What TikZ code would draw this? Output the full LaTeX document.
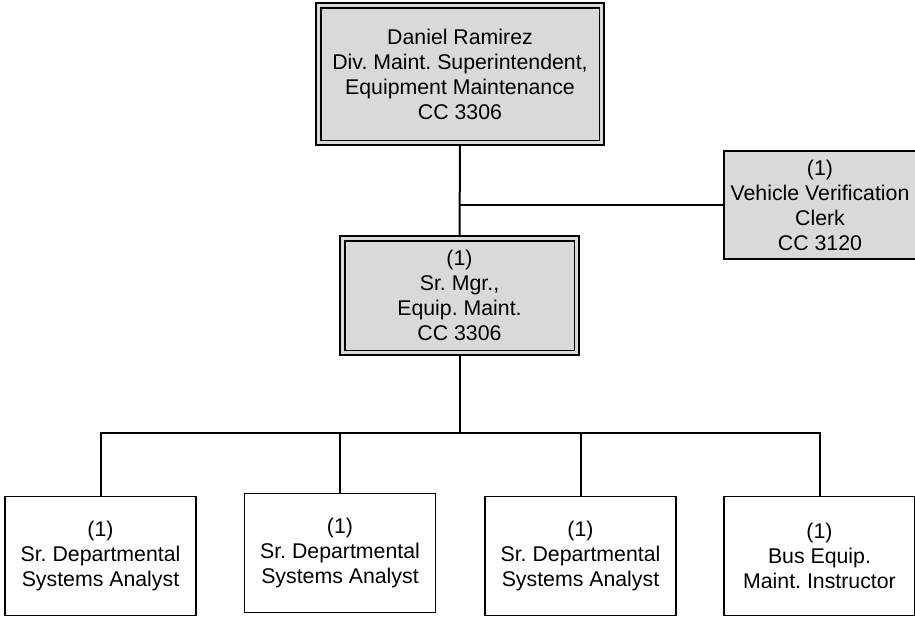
\documentclass[tikz,border=0pt]{standalone}
\usepackage{fontspec}
\setmainfont{Liberation Sans}
\usetikzlibrary{backgrounds}
\definecolor{boxgray}{HTML}{D9D9D9}
\tikzset{
  every node/.style={inner sep=0pt, outer sep=0pt, align=center,
    font=\fontsize{21.3}{25}\selectfont\frenchspacing},
  dblbox/.style={draw=black, fill=boxgray, line width=1.6pt, double=boxgray, double distance=3.3pt},
  graybox/.style={draw=black, fill=boxgray, line width=1.6pt},
  plainbox/.style={draw=black, fill=white, line width=1.6pt, minimum width=191pt, minimum height=119pt},
  conn/.style={line width=2pt, draw=black}
}
\begin{document}
\begin{tikzpicture}[x=1pt, y=-1pt]
\useasboundingbox (0,0) rectangle (915,616);
\node[dblbox, minimum width=283.5pt, minimum height=137.5pt] (top) at (460,74)
  {Daniel Ramirez\\Div. Maint. Superintendent,\\Equipment Maintenance\\CC 3306};
\node[dblbox, minimum width=234.5pt, minimum height=114.5pt] (mid) at (459.5,295.5)
  {(1)\\Sr. Mgr.,\\Equip. Maint.\\CC 3306};
\node[graybox, minimum width=192pt, minimum height=108pt] (clerk) at (820,205)
  {(1)\\Vehicle Verification\\Clerk\\CC 3120};
\node[plainbox] (b1) at (100.5,556) {(1)\\Sr. Departmental\\Systems Analyst};
\node[plainbox] (b2) at (340,553) {(1)\\Sr. Departmental\\Systems Analyst};
\node[plainbox] (b3) at (580.5,556) {(1)\\Sr. Departmental\\Systems Analyst};
\node[plainbox] (b4) at (819.5,556) {(1)\\Bus Equip.\\Maint. Instructor};
\coordinate (j1) at (top.south |- clerk.west);
\coordinate (bus) at (mid.south |- 0,433);
\begin{scope}[on background layer]
\draw[conn] (top.south) -- (mid.north);
\draw[conn] (j1) -- (clerk.west);
\draw[conn] (mid.south) -- (bus);
\draw[conn] (b1.north) |- (bus) -| (b4.north);
\draw[conn] (b2.north) -- (b2.north |- bus);
\draw[conn] (b3.north) -- (b3.north |- bus);
\end{scope}
\end{tikzpicture}
\end{document}
